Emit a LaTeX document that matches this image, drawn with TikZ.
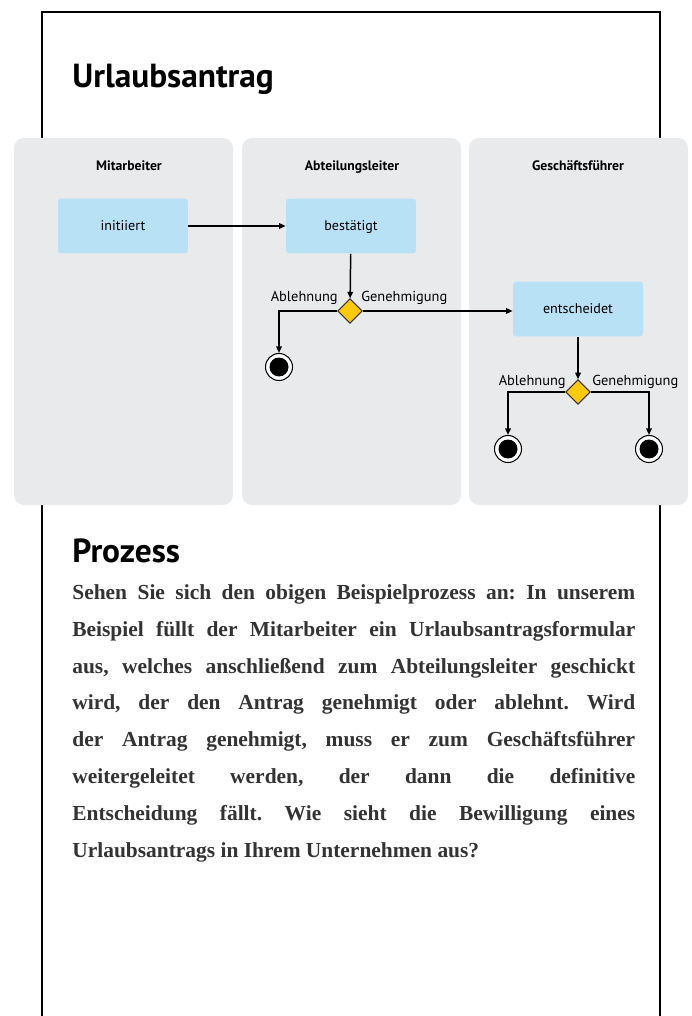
\documentclass[tikz,border=0pt]{standalone}
\usepackage{fontspec}
\setmainfont{Liberation Serif}
\newfontfamily\myriad{PT Sans}
\usetikzlibrary{arrows.meta,shapes.geometric}
\definecolor{lanefill}{HTML}{E9EAEC}
\definecolor{actfill}{HTML}{B9E1F6}
\definecolor{gatefill}{HTML}{FFC906}
\colorlet{bodytext}{black!80}

\begin{document}
\begin{tikzpicture}[
    x=0.02cm, y=-0.02cm,
    frameline/.style={line width=1.3pt, black},
    lanebox/.style={fill=lanefill, rounded corners=0.2cm},
    lanehead/.style={font=\myriad\bfseries\fontsize{7.8}{9}\selectfont,
                     text height=1.6ex, text depth=0.4ex},
    act/.style={fill=actfill, rounded corners=2pt, minimum width=2.6cm,
                minimum height=1.1cm, text height=1.6ex, text depth=0.4ex,
                font=\myriad\fontsize{8}{9}\selectfont},
    gate/.style={diamond, aspect=1, fill=gatefill, draw=black!80, line width=0.6pt,
                 minimum size=0.49cm, inner sep=0pt},
    final/.style={circle, draw=black, line width=0.6pt, fill=white,
                  minimum size=0.54cm, inner sep=0pt,
                  path picture={\fill[black] (path picture bounding box.center) circle (0.19cm);}},
    lbl/.style={font=\myriad\fontsize{8.2}{9}\selectfont, inner sep=0pt},
    flow/.style={-{Triangle[length=1.3mm,width=1.1mm]}, line width=0.85pt},
    heading/.style={font=\myriad\bfseries\fontsize{19}{21}\selectfont, inner sep=0pt}
  ]
  \useasboundingbox (0,0) rectangle (691,1016);

  % page frame, open at the bottom
  \draw[frameline] (42,1016) -- (42,12) -- (660,12) -- (660,1016);
  \node[heading, anchor=base west] (title) at (72,88) {Urlaubsantrag};

  % swimlanes
  \fill[lanebox] (14,138) rectangle (233,505);
  \fill[lanebox] (242,138) rectangle (461,505);
  \fill[lanebox] (469,138) rectangle (688,505);
  \node[lanehead] (hmit) at (129,166) {Mitarbeiter};
  \node[lanehead] (habt) at (352,166) {Abteilungsleiter};
  \node[lanehead] (hgf) at (578,166) {Geschäftsführer};

  % activities and decisions
  \node[act] (init) at (123,226) {initiiert};
  \node[act] (best) at (351,226) {bestätigt};
  \node[gate] (dec1) at (350,311) {};
  \node[final] (end1) at (279,367) {};
  \node[act] (ents) at (578,309) {entscheidet};
  \node[gate] (dec2) at (578,392) {};
  \node[final] (end2) at (508,449) {};
  \node[final] (end3) at (649,449) {};

  \node[lbl, anchor=base east] (abl1) at (338,302) {Ablehnung};
  \node[lbl, anchor=base west] (gen1) at (361,302) {Genehmigung};
  \node[lbl, anchor=base east] (abl2) at (566,385) {Ablehnung};
  \node[lbl, anchor=base west] (gen2) at (592,385) {Genehmigung};

  \draw[flow] (init) -- (best);
  \draw[flow] (best) -- (dec1);
  \draw[flow] (dec1.west) -| (end1);
  \draw[flow] (dec1.east) -- (dec1.east -| ents.west);
  \draw[flow] (ents) -- (dec2);
  \draw[flow] (dec2.west) -| (end2);
  \draw[flow] (dec2.east) -| (end3);

  % description
  \node[heading, anchor=base west] (proz) at (72,562) {Prozess};
  \node[anchor=north west, inner sep=0pt, text width=11.26cm, align=justify,
        text=bodytext, font=\bfseries\fontsize{12.2}{21}\selectfont] (body) at (72,584)
    {\frenchspacing\hyphenpenalty=10000 \emergencystretch=3em
     Sehen Sie sich den obigen Beispielprozess an: In unserem\linebreak
     Beispiel füllt der Mitarbeiter ein Urlaubsantragsformular\linebreak
     aus, welches anschließend zum Abteilungsleiter geschickt\linebreak
     wird, der den Antrag genehmigt oder ablehnt. Wird\linebreak
     der Antrag genehmigt, muss er zum Geschäftsführer\linebreak
     weitergeleitet werden, der dann die definitive\linebreak
     Entscheidung fällt. Wie sieht die Bewilligung eines\linebreak
     Urlaubsantrags in Ihrem Unternehmen aus?};
\end{tikzpicture}
\end{document}
